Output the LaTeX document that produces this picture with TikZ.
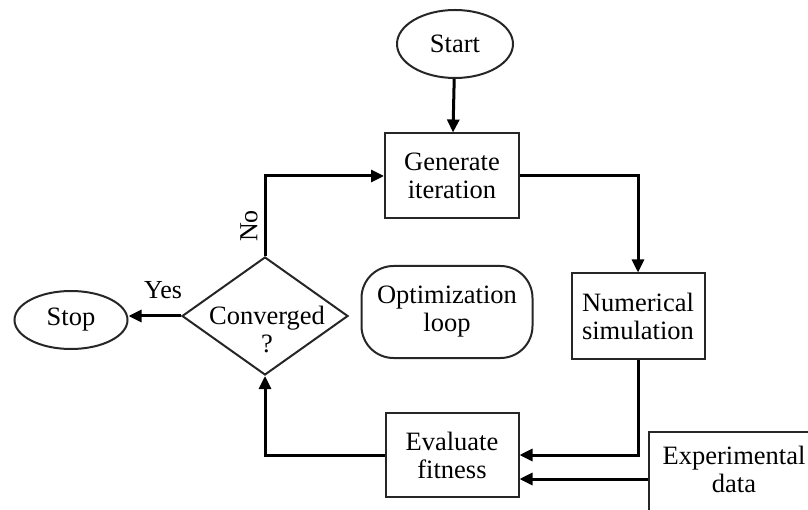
\documentclass[tikz,border=0pt]{standalone}
\usepackage{fontspec}
\setmainfont{Liberation Serif}
\usetikzlibrary{shapes.geometric,arrows.meta}
\begin{document}
\begin{tikzpicture}[x=1pt,y=-1pt,
  every node/.style={font=\fontsize{26.5}{28}\selectfont, text=black},
  boxnode/.style={draw=black!85, line width=2pt, minimum width=133pt, minimum height=85pt, inner sep=0pt, align=center},
  ovalnode/.style={draw=black!85, ellipse, line width=2pt, inner sep=0pt, align=center},
  conn/.style={line width=3pt, draw=black},
  arr/.style={conn, -{Triangle[length=13pt,width=12pt]}},
  lbl/.style={font=\fontsize{26}{28}\selectfont}
]
\useasboundingbox (0,0) rectangle (808,510);
\clip (0,0) rectangle (808,510);

\node[ovalnode, minimum width=116pt, minimum height=68pt] (start) at (455,44) {Start};
\node[boxnode, minimum width=134pt] (gen) at (452,176) {Generate\\iteration};
\node[boxnode] (num) at (638,316) {Numerical\\simulation};
\node[boxnode, minimum height=84pt] (eval) at (452,455) {Evaluate\\fitness};
\node[draw=black!85, line width=2pt, minimum width=190pt, minimum height=110pt, inner sep=0pt] (exp) at (744,487) {};
\node[align=center] (exptxt) at (734,469) {Experimental\\data};
\node[draw=black!85, line width=2pt, rounded corners=32pt, minimum width=171pt, minimum height=92pt, inner sep=0pt, align=center] (opt) at (447,312) {Optimization\\loop};
\node[diamond, draw=black!85, line width=2pt, minimum width=166pt, minimum height=118pt, aspect=1.4, inner sep=0pt] (conv) at (265,316) {};
\node[align=center] (convtxt) at (267,329) {Converged\\?};
\node[ovalnode, minimum width=113pt, minimum height=58pt] (stop) at (71,320) {Stop};

\draw[arr] (start) -- (gen);
\draw[arr] (gen.east) -| (num.north);
\draw[arr] (num.south) |- (eval.east |- 0,455);
\draw[arr] (exp.west |- 0,479) -- (eval.east |- 0,479);
\draw[arr] (eval.west) -| (conv.south);
\draw[arr] (conv.north) |- (gen.west);
\draw[arr] (conv.west) -- (stop.east |- conv.west);

\node[lbl] (yes) at (163,290) {Yes};
\node[lbl, rotate=90] (no) at (249,226) {No};
\end{tikzpicture}
\end{document}
